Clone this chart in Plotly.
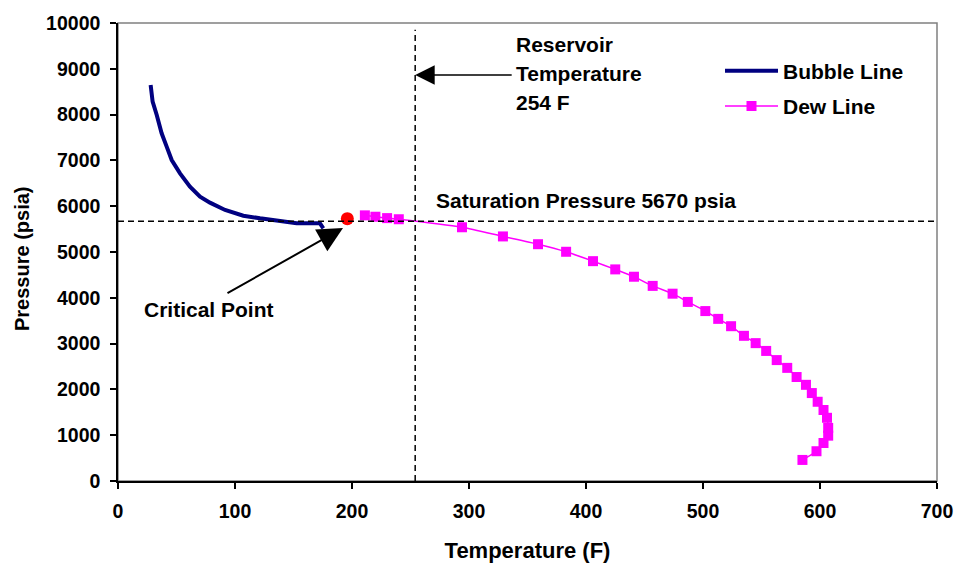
import plotly.graph_objects as go

# Bubble-point curve (temperature in F, pressure in psia)
bubble_temp = [27.9, 29.6, 33.1, 37.3, 41.6, 45.9, 53.0, 61.5, 70.1, 78.6, 91.5,
               107.1, 121.4, 138.5, 152.7, 172.6, 175.5]
bubble_pres = [8646, 8282, 7991, 7591, 7300, 7009, 6718, 6426, 6208, 6077, 5917,
               5793, 5735, 5684, 5626, 5626, 5517]

# Dew-point curve
dew_temp = [211, 220, 230, 240, 294, 329, 359, 383, 406, 425, 441, 457, 474, 487,
            502, 513, 524, 535, 545, 554, 563, 572, 580, 588, 593, 598, 603, 606,
            607, 607, 603, 597, 585]
dew_pres = [5800, 5770, 5740, 5715, 5540, 5340, 5170, 5005, 4800, 4620, 4460, 4260,
            4090, 3910, 3710, 3540, 3380, 3170, 3010, 2840, 2640, 2470, 2270, 2100,
            1920, 1730, 1550, 1380, 1160, 990, 830, 650, 460]

# Critical point
crit_temp = [196]
crit_pres = [5727]

reservoir_temp = 254
saturation_pres = 5670

FONT = "Liberation Sans, Arial, sans-serif"

fig = go.Figure()

fig.add_trace(go.Scatter(
    x=bubble_temp, y=bubble_pres, mode="lines", name="<b>Bubble Line</b>",
    legendgroup="bubble",
    line=dict(color="#000080", width=4),
))
fig.add_trace(go.Scatter(
    x=dew_temp, y=dew_pres, mode="lines+markers", name="<b>Dew Line</b>",
    legendgroup="dew",
    line=dict(color="#FF00FF", width=1.5, shape="spline", smoothing=0.6),
    marker=dict(symbol="square", size=10, color="#FF00FF"),
))
fig.add_trace(go.Scatter(
    x=crit_temp, y=crit_pres, mode="markers", showlegend=False,
    marker=dict(symbol="circle", size=13, color="#FF0000"),
))

# Reference lines: reservoir temperature and saturation pressure
fig.add_shape(type="line", x0=reservoir_temp, x1=reservoir_temp, y0=0, y1=9850,
              xref="x", yref="y", line=dict(color="black", width=1.5, dash="6px,4px"))
fig.add_shape(type="line", x0=0, x1=700, y0=saturation_pres, y1=saturation_pres,
              xref="x", yref="y", line=dict(color="black", width=1.5, dash="6px,4px"))

# Plot frame (gray top/right edges)
fig.add_shape(type="rect", x0=0, x1=1, y0=0, y1=1, xref="paper", yref="paper",
              line=dict(color="#808080", width=1.5), layer="below")

tfont = dict(family=FONT, size=21, color="black")

for txt, yv in [("<b>Reservoir</b>", 9541), ("<b>Temperature</b>", 8908), ("<b>254 F</b>", 8275)]:
    fig.add_annotation(x=338.5, y=yv, text=txt, showarrow=False, xanchor="left",
                       yanchor="middle", font=tfont)

fig.add_annotation(x=reservoir_temp, y=8865, ax=98, ay=0, text="", showarrow=True,
                   arrowhead=2, arrowsize=2.6, arrowwidth=1.5, arrowcolor="black",
                   xref="x", yref="y")

fig.add_annotation(x=270, y=6135, text="<b>Saturation Pressure 5670 psia</b>",
                   showarrow=False, xanchor="left", yanchor="middle", font=tfont)

fig.add_annotation(x=20.5, y=3734, text="<b>Critical Point</b>", showarrow=False,
                   xanchor="left", yanchor="middle", font=tfont)
fig.add_annotation(x=192.3, y=5524, ax=-117, ay=66, text="", showarrow=True,
                   arrowhead=2, arrowsize=2.5, arrowwidth=2, arrowcolor="black",
                   xref="x", yref="y")

# Vertical axis title
fig.add_annotation(x=(22 - 118) / 819, y=(481 - 259) / 458, xref="paper", yref="paper",
                   text="<b>Pressure (psia)</b>", textangle=-90, showarrow=False,
                   xanchor="center", yanchor="middle",
                   font=dict(family=FONT, size=20, color="black"))

fig.update_layout(
    width=959, height=565,
    margin=dict(l=118, r=22, t=23, b=84, autoexpand=False),
    paper_bgcolor="white", plot_bgcolor="white",
    font=dict(family=FONT, size=20, color="black"),
    showlegend=True,
    legend=dict(x=(720 - 118) / 819, y=(481 - 50.5) / 458, xanchor="left", yanchor="top",
                bgcolor="rgba(0,0,0,0)", font=dict(family=FONT, size=21, color="black"),
                itemwidth=53, traceorder="grouped", tracegroupgap=5),
    xaxis=dict(
        range=[0, 700], dtick=100, showgrid=False, zeroline=False, automargin=False,
        showline=True, linecolor="black", linewidth=1.5,
        ticks="outside", ticklen=6, tickcolor="black", tickwidth=1.5,
        tickfont=dict(family=FONT, size=19.5, color="black"),
        tickprefix="<b>", ticksuffix="</b>", ticklabelstandoff=6,
        title=dict(text="<b>Temperature (F)</b>", font=dict(family=FONT, size=22), standoff=21),
    ),
    yaxis=dict(
        range=[0, 10000], dtick=1000, tickformat="d", showgrid=False, zeroline=False,
        automargin=False,
        showline=True, linecolor="black", linewidth=1.5,
        ticks="outside", ticklen=6, tickcolor="black", tickwidth=1.5,
        tickfont=dict(family=FONT, size=19.5, color="black"),
        tickprefix="<b>", ticksuffix="</b>", ticklabelstandoff=6,
    ),
)

fig.write_html("out.html")
